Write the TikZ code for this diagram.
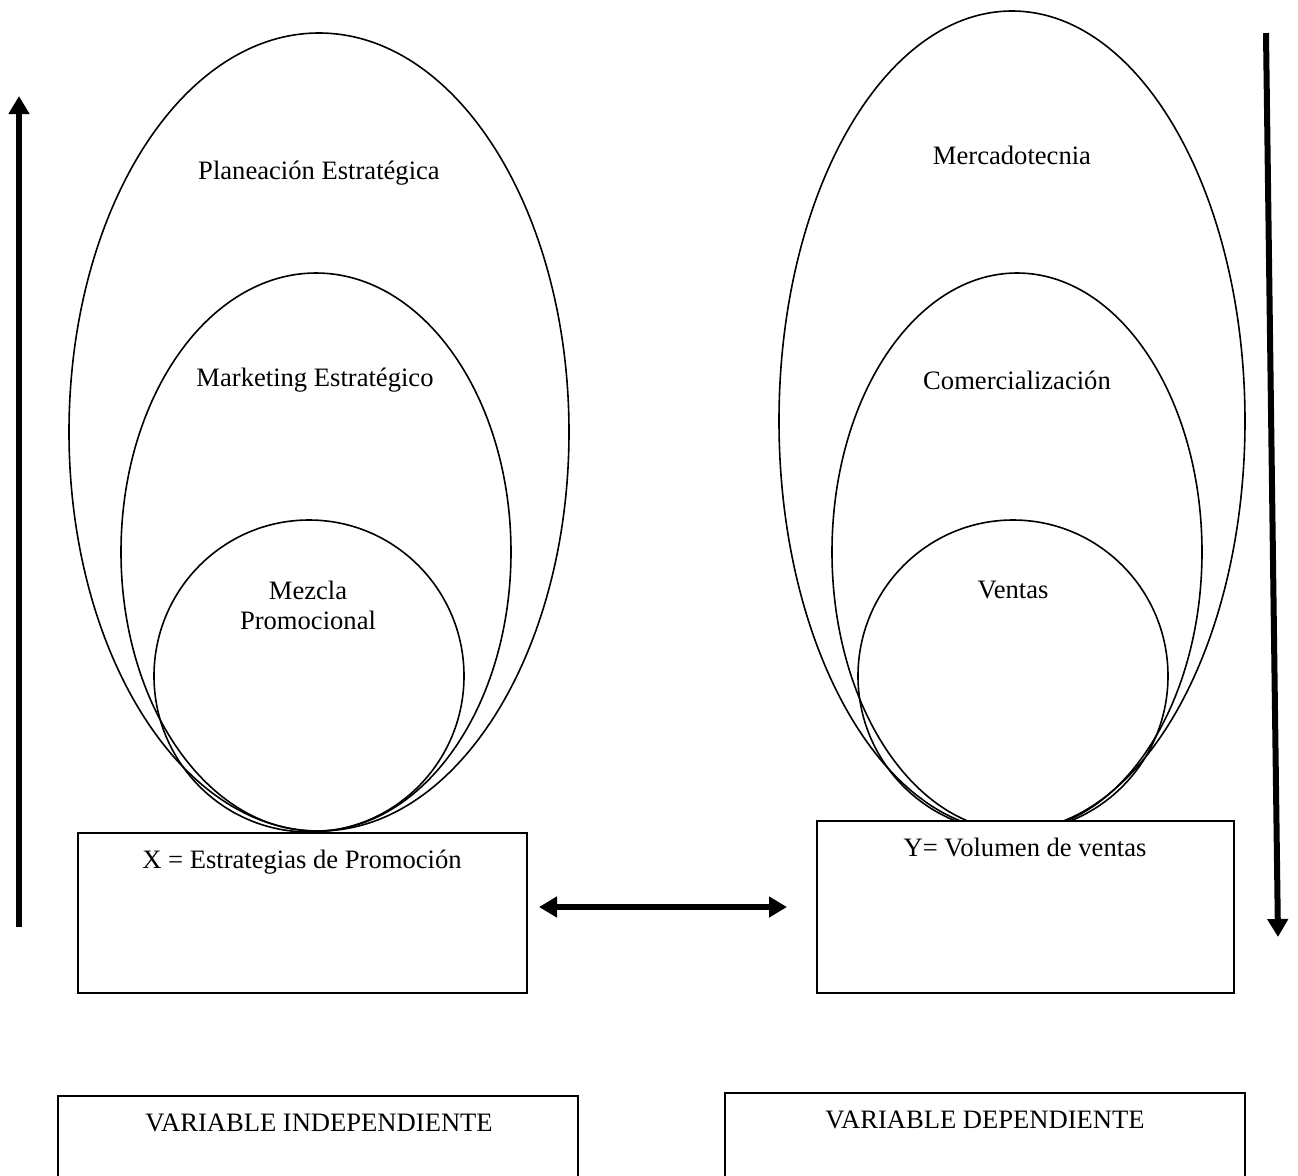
\documentclass[tikz,border=0pt]{standalone}
\usepackage{fontspec}
\setmainfont{Liberation Serif}
\usetikzlibrary{shapes.geometric,arrows.meta}
\begin{document}
\begin{tikzpicture}[x=0.5pt,y=-0.5pt,
  oval/.style={ellipse,draw,line width=0.8pt,inner sep=0pt},
  box/.style={draw,line width=1pt,fill=white,inner sep=0pt,anchor=north west},
  lbl/.style={font=\fontsize{13.3}{15}\selectfont,inner sep=0pt,align=center},
  bigarrow/.style={line width=3pt,-{Triangle[length=9pt,width=10pt]}},
  dblarrow/.style={line width=3pt,{Triangle[length=9pt,width=10pt]}-{Triangle[length=9pt,width=10pt]}}]
\useasboundingbox (0,0) rectangle (1298,1175);

% left ellipses
\node[oval,minimum width=250pt,minimum height=399pt] (LO) at (319,432) {};
\node[oval,minimum width=195pt,minimum height=279pt] (LM) at (316,552) {};
\node[oval,minimum width=155pt,minimum height=156pt] (LI) at (309,676) {};
% right ellipses
\node[oval,minimum width=233pt,minimum height=410pt] (RO) at (1012,421) {};
\node[oval,minimum width=185pt,minimum height=279pt] (RM) at (1017,552) {};
\node[oval,minimum width=155pt,minimum height=156pt] (RI) at (1013,676) {};

% boxes
\node[box,minimum width=224.5pt,minimum height=80pt] (X) at (77,832) {};
\node[box,minimum width=208.5pt,minimum height=86pt] (Y) at (816,820) {};
\node[box,minimum width=260pt,minimum height=60pt] (VI) at (57,1095) {};
\node[box,minimum width=260pt,minimum height=60pt] (VD) at (724,1092) {};

% labels
\node[lbl] (tPE) at (319,173) {Planeación Estratégica};
\node[lbl] (tME) at (315,380) {Marketing Estratégico};
\node[lbl] (tMP) at (308,605) {Mezcla\\Promocional};
\node[lbl] (tMe) at (1012,155) {Mercadotecnia};
\node[lbl] (tCo) at (1017,380) {Comercialización};
\node[lbl] (tVe) at (1013,590) {Ventas};
\node[lbl] (tX) at (302,862) {X = Estrategias de Promoción};
\node[lbl] (tY) at (1025,847) {Y= Volumen de ventas};
\node[lbl] (tVI) at (319,1123) {VARIABLE INDEPENDIENTE};
\node[lbl] (tVD) at (985,1120) {VARIABLE DEPENDIENTE};

% arrows
\coordinate (upS) at (19,927);
\coordinate (upE) at (19,96);
\draw[bigarrow] (upS) -- (upE);
\coordinate (dnS) at (1266,33);
\coordinate (dnE) at (1278,937);
\draw[bigarrow] (dnS) -- (dnE);
\coordinate (dbL) at (539,907);
\coordinate (dbR) at (787,907);
\draw[dblarrow] (dbL) -- (dbR);
\end{tikzpicture}
\end{document}
